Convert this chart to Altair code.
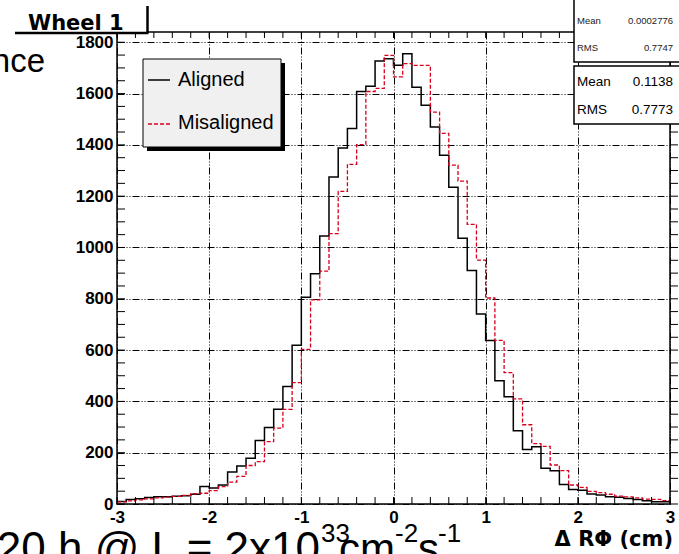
import altair as alt
import numpy as np
import pandas as pd

# ---------------- data ----------------
bin_start = -3.0
bin_width = 0.1
aligned = [10, 18, 20, 25, 28, 28, 30, 32, 38, 68,
           62, 74, 125, 148, 178, 248, 298, 369, 458, 619,
           806, 898, 1045, 1275, 1388, 1464, 1608, 1629, 1727, 1736,
           1710, 1755, 1625, 1554, 1470, 1360, 1235, 1036, 910, 741,
           637, 480, 418, 286, 212, 223, 139, 130, 76, 57,
           54, 39, 35, 28, 26, 21, 18, 13, 9, 9]
misaligned = [8, 12, 16, 20, 24, 27, 30, 34, 40, 42,
              52, 68, 85, 108, 150, 165, 243, 296, 369, 473,
              603, 796, 908, 1054, 1219, 1324, 1401, 1608, 1620, 1749,
              1665, 1717, 1710, 1710, 1528, 1445, 1321, 1259, 1090, 951,
              803, 638, 512, 410, 309, 235, 225, 152, 130, 74,
              65, 49, 44, 38, 31, 28, 24, 19, 18, 13]
series_names = ["Aligned", "Misaligned"]
x_ticks = [-3, -2, -1, 0, 1, 2, 3]
y_ticks = [0, 200, 400, 600, 800, 1000, 1200, 1400, 1600, 1800]
stats_small = [("Mean", "0.0002776"), ("RMS", "0.7747")]
stats_main = [("Mean", "0.1138"), ("RMS", "0.7773")]
title_text = "Wheel 1"
x_title = "\u0394 R\u03a6 (cm)"

# ---------------- layout ----------------
W, H = 553, 472
PL, PT = 117, 32
FONT = "Liberation Sans"
GRID_DASH = [7, 2, 1, 2, 1, 2]
RED = "#d8001c"

def steps(vals):
    edges = bin_start + bin_width * np.arange(len(vals) + 1)
    return pd.DataFrame({"x": np.round(edges, 3), "y": list(vals) + [vals[-1]]})

xs = alt.Scale(domain=[-3, 3], nice=False, zero=False)
ys = alt.Scale(domain=[0, 1840], nice=False, zero=False)
one = pd.DataFrame({"a": [0]})

ax_x = alt.Axis(
    values=x_ticks, title=None, grid=True, gridDash=GRID_DASH, gridColor="black",
    gridWidth=1, gridOpacity=1, ticks=False, domain=False, labelFont=FONT,
    labelFontWeight="bold", labelFontSize=17, labelColor="black", labelPadding=5,
    labelFlush=False, labelOverlap=False,
    labelExpr="replace(datum.label, '\u2212', '-')")
ax_y = alt.Axis(
    values=y_ticks, title=None, grid=True, gridDash=GRID_DASH, gridColor="black",
    gridWidth=1, gridOpacity=1, ticks=False, domain=False, labelFont=FONT,
    labelFontWeight="bold", labelFontSize=17, labelColor="black", labelPadding=4,
    labelFlush=False, labelOverlap=False, format="d")

black = alt.Chart(steps(aligned)).mark_line(
    interpolate="step-after", color="black", strokeWidth=1.5
).encode(
    x=alt.X("x:Q", scale=xs, axis=ax_x),
    y=alt.Y("y:Q", scale=ys, axis=ax_y),
)

red = alt.Chart(steps(misaligned)).mark_line(
    interpolate="step-after", color=RED, strokeWidth=1.3, strokeDash=[4, 2]
).encode(
    x=alt.X("x:Q", scale=xs, axis=ax_x),
    y=alt.Y("y:Q", scale=ys, axis=ax_y),
)

# tick marks
xt = np.round(np.arange(-3, 3.0001, 0.2), 2)
xt_df = pd.DataFrame({"x": xt})
yt = np.arange(0, 1801, 50)
yt_df = pd.DataFrame({"y": yt})

def xtick(y0, y1):
    return alt.Chart(xt_df).mark_rule(color="black", strokeWidth=1).encode(
        x=alt.X("x:Q", scale=xs, axis=ax_x), y=alt.value(y0), y2=alt.value(y1))

def ytick(x0, x1):
    return alt.Chart(yt_df).mark_rule(color="black", strokeWidth=1).encode(
        y=alt.Y("y:Q", scale=ys, axis=ax_y), x=alt.value(x0), x2=alt.value(x1))

ticks = [xtick(H, H - 7), xtick(0, 6), ytick(0, 8), ytick(W, W + 8)]

def rect(x0, x1, y0, y1, fill, stroke=None, sw=0):
    kw = dict(fill=fill)
    if stroke:
        kw.update(stroke=stroke, strokeWidth=sw)
    return alt.Chart(one).mark_rect(**kw).encode(
        x=alt.value(x0), x2=alt.value(x1), y=alt.value(y0), y2=alt.value(y1))

def rule(x0, x1, y0, y1, color="black", sw=1, dash=None):
    kw = dict(color=color, strokeWidth=sw)
    if dash:
        kw["strokeDash"] = dash
    return alt.Chart(one).mark_rule(**kw).encode(
        x=alt.value(x0), x2=alt.value(x1), y=alt.value(y0), y2=alt.value(y1))

def text(t, x, y, size, align="left", baseline="middle", weight="normal", font=FONT, color="black"):
    return alt.Chart(one).mark_text(
        text=t, align=align, baseline=baseline, fontSize=size, fontWeight=weight,
        font=font, color=color
    ).encode(x=alt.value(x), y=alt.value(y))

# legend
legend = [
    rect(30, 168, 31, 119, "black"),
    rect(26, 164, 27, 115, "#f0f0f0", "black", 1),
    rule(31, 53, 48, 48, "black", 1.5),
    text(series_names[0], 61, 48, 20),
    rule(31, 53, 92, 92, RED, 1.3, [4, 2]),
    text(series_names[1], 61, 91, 20),
]

# stats boxes
stats = [
    rect(457, 575, -34, 30, "white", "black", 1.5),
    text(stats_small[0][0], 460, -11, 9.5, color="#222"),
    text(stats_small[0][1], 556, -11, 9.5, align="right", color="#222"),
    text(stats_small[1][0], 460, 16, 9.5, color="#222"),
    text(stats_small[1][1], 556, 16, 9.5, align="right", color="#222"),
    rect(457, 575, 34, 92, "white", "black", 1.5),
    text(stats_main[0][0], 460, 50, 13.5),
    text(stats_main[0][1], 556, 50, 13.5, align="right"),
    text(stats_main[1][0], 460, 78, 13.5),
    text(stats_main[1][1], 556, 78, 13.5, align="right"),
]

# title box
title = [
    rect(-102, 30, -34, 1, "white"),
    rule(-102, 31.5, 1, 1, "black", 2.5),
    rule(30.5, 30.5, -26, 1, "black", 2.5),
    text(title_text, -89, -2, 21, baseline="alphabetic", weight="bold", font="DejaVu Sans"),
]

# slide text around the plot
slide = [
    text("nce", -72, 40, 33, align="right", baseline="alphabetic"),
    text("20 h @ L = 2x10", 203, 531, 44, align="right", baseline="alphabetic"),
    text("33", 204, 510, 26, baseline="alphabetic"),
    text("cm", 222, 531, 42, baseline="alphabetic"),
    text("-2", 278, 510, 26, baseline="alphabetic"),
    text("s", 301, 531, 42, baseline="alphabetic"),
    text("-1", 321, 510, 26, baseline="alphabetic"),
    text(x_title, 556, 514, 21, align="right", baseline="alphabetic", weight="bold",
         font="DejaVu Sans"),
]

chart = alt.layer(black, red, *ticks, *legend, *stats, *title, *slide).properties(
    width=W, height=H,
    autosize=alt.AutoSizeParams(type="none"),
    padding={"left": PL, "top": PT, "right": 679 - PL - W, "bottom": 554 - PT - H},
    background="white",
).configure_view(stroke="black", strokeWidth=1.5)

chart.save("out.html", embed_options={"renderer": "svg", "actions": False})
